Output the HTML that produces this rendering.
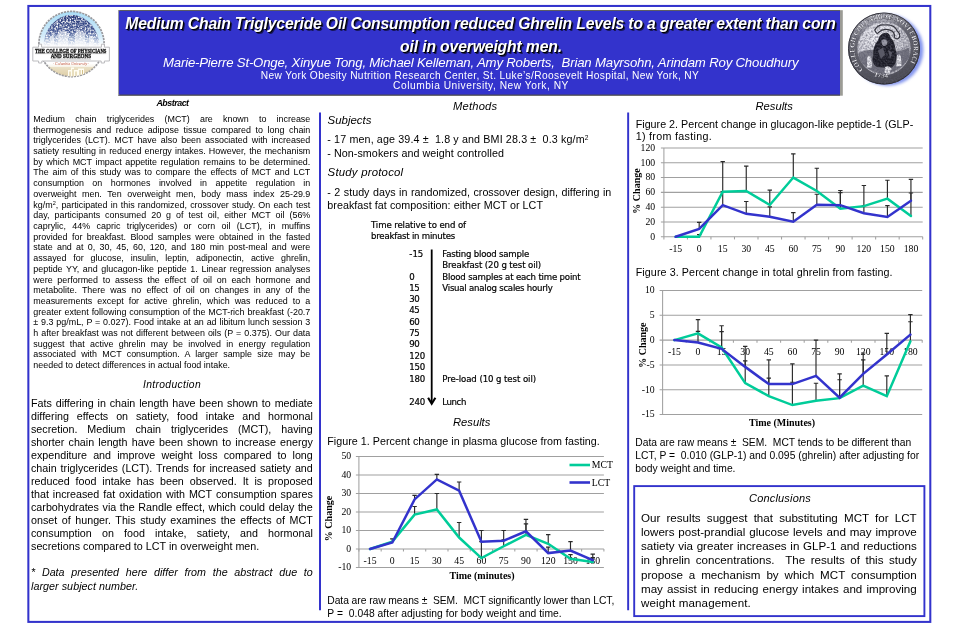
<!DOCTYPE html>
<html lang="en"><head><meta charset="utf-8"><title>MCT poster</title>
<style>
html,body{margin:0;padding:0;background:#fff;overflow:hidden;}
body{width:960px;height:640px;position:relative;overflow:hidden;font-family:"Liberation Sans",sans-serif;color:#000;}
.t{position:absolute;white-space:nowrap;}
.t.j{white-space:normal;}
.r{position:absolute;box-sizing:border-box;}
sup{font-size:0.62em;line-height:0;vertical-align:0.5em;}
svg{position:absolute;left:0;top:0;overflow:visible;}
svg text{font-family:"Liberation Serif",serif;}
</style></head><body>
<svg width="960" height="640" fill="none" stroke="#3333cc"><rect x="28.35" y="5.95" width="901.95" height="615.95" stroke-width="2.05"/><line x1="320" y1="112.5" x2="320" y2="610.3" stroke-width="2"/><line x1="628.15" y1="112.5" x2="628.15" y2="610.3" stroke-width="1.95"/><rect x="634.2" y="486.1" width="290.2" height="130" stroke-width="1.9"/></svg>
<svg width="960" height="640"><rect x="118.3" y="10.2" width="724.5" height="85.5" fill="#9c9c96"/><rect x="118.3" y="10.2" width="721.7" height="85.5" fill="#4a4a52"/><rect x="118.3" y="10.2" width="1" height="85" fill="#b8b8b8"/><rect x="118.95" y="11" width="721.05" height="83.5" fill="#3333cc"/></svg>
<div class="t" style="top:13.56px;font-size:15.7px;line-height:20px;color:#fff;font-style:italic;font-weight:bold;letter-spacing:-0.155px;left:80.50px;width:800px;text-align:center;text-shadow:1px 1px 0 #000,2px 2px 0 rgba(0,0,0,0.55);">Medium Chain Triglyceride Oil Consumption reduced Ghrelin Levels to a greater extent than corn</div>
<div class="t" style="top:36.56px;font-size:15.7px;line-height:20px;color:#fff;font-style:italic;font-weight:bold;letter-spacing:-0.131px;left:81.00px;width:800px;text-align:center;text-shadow:1px 1px 0 #000,2px 2px 0 rgba(0,0,0,0.55);">oil in overweight men.</div>
<div class="t" style="top:54.33px;font-size:13.2px;line-height:17px;color:#fff;font-style:italic;letter-spacing:-0.184px;left:80.70px;width:800px;text-align:center;white-space:pre;">Marie-Pierre St-Onge, Xinyue Tong, Michael Kelleman, Amy Roberts,  Brian Mayrsohn, Arindam Roy Choudhury</div>
<div class="t" style="top:68.87px;font-size:10.2px;line-height:13px;color:#fff;letter-spacing:0.363px;left:80.00px;width:800px;text-align:center;">New York Obesity Nutrition Research Center, St. Luke’s/Roosevelt Hospital, New York, NY</div>
<div class="t" style="top:79.17px;font-size:10.2px;line-height:13px;color:#fff;letter-spacing:0.529px;left:81.00px;width:800px;text-align:center;">Columbia University, New York, NY</div>
<div class="t" style="top:96.72px;font-size:8.9px;line-height:12px;font-style:italic;font-weight:bold;letter-spacing:-0.476px;left:52.50px;width:240px;text-align:center;">Abstract</div>
<div class="t j" style="top:112.86px;font-size:8.93px;line-height:12px;left:33.30px;width:277.00px;text-align:justify;text-align-last:justify;">Medium chain triglycerides (MCT) are known to increase</div>
<div class="t j" style="top:123.57px;font-size:8.93px;line-height:12px;left:33.30px;width:277.00px;text-align:justify;text-align-last:justify;">thermogenesis and reduce adipose tissue compared to long chain</div>
<div class="t j" style="top:134.28px;font-size:8.93px;line-height:12px;left:33.30px;width:277.00px;text-align:justify;text-align-last:justify;">triglycerides (LCT). MCT have also been associated with increased</div>
<div class="t j" style="top:144.99px;font-size:8.93px;line-height:12px;left:33.30px;width:277.00px;text-align:justify;text-align-last:justify;">satiety resulting in reduced energy intakes. However, the mechanism</div>
<div class="t j" style="top:155.70px;font-size:8.93px;line-height:12px;left:33.30px;width:277.00px;text-align:justify;text-align-last:justify;">by which MCT impact appetite regulation remains to be determined.</div>
<div class="t j" style="top:166.41px;font-size:8.93px;line-height:12px;left:33.30px;width:277.00px;text-align:justify;text-align-last:justify;">The aim of this study was to compare the effects of MCT and LCT</div>
<div class="t j" style="top:177.12px;font-size:8.93px;line-height:12px;left:33.30px;width:277.00px;text-align:justify;text-align-last:justify;">consumption on hormones involved in appetite regulation in</div>
<div class="t j" style="top:187.83px;font-size:8.93px;line-height:12px;left:33.30px;width:277.00px;text-align:justify;text-align-last:justify;">overweight men. Ten overweight men, body mass index 25-29.9</div>
<div class="t j" style="top:198.54px;font-size:8.93px;line-height:12px;left:33.30px;width:277.00px;text-align:justify;text-align-last:justify;">kg/m<sup>2</sup>, participated in this randomized, crossover study. On each test</div>
<div class="t j" style="top:209.25px;font-size:8.93px;line-height:12px;left:33.30px;width:277.00px;text-align:justify;text-align-last:justify;">day, participants consumed 20 g of test oil, either MCT oil (56%</div>
<div class="t j" style="top:219.96px;font-size:8.93px;line-height:12px;left:33.30px;width:277.00px;text-align:justify;text-align-last:justify;">caprylic, 44% capric triglycerides) or corn oil (LCT), in muffins</div>
<div class="t j" style="top:230.67px;font-size:8.93px;line-height:12px;left:33.30px;width:277.00px;text-align:justify;text-align-last:justify;">provided for breakfast. Blood samples were obtained in the fasted</div>
<div class="t j" style="top:241.38px;font-size:8.93px;line-height:12px;left:33.30px;width:277.00px;text-align:justify;text-align-last:justify;">state and at 0, 30, 45, 60, 120, and 180 min post-meal and were</div>
<div class="t j" style="top:252.09px;font-size:8.93px;line-height:12px;left:33.30px;width:277.00px;text-align:justify;text-align-last:justify;">assayed for glucose, insulin, leptin, adiponectin, active ghrelin,</div>
<div class="t j" style="top:262.80px;font-size:8.93px;line-height:12px;left:33.30px;width:277.00px;text-align:justify;text-align-last:justify;">peptide YY, and glucagon-like peptide 1. Linear regression analyses</div>
<div class="t j" style="top:273.51px;font-size:8.93px;line-height:12px;left:33.30px;width:277.00px;text-align:justify;text-align-last:justify;">were performed to assess the effect of oil on each hormone and</div>
<div class="t j" style="top:284.22px;font-size:8.93px;line-height:12px;left:33.30px;width:277.00px;text-align:justify;text-align-last:justify;">metabolite. There was no effect of oil on changes in any of the</div>
<div class="t j" style="top:294.93px;font-size:8.93px;line-height:12px;left:33.30px;width:277.00px;text-align:justify;text-align-last:justify;">measurements except for active ghrelin, which was reduced to a</div>
<div class="t j" style="top:305.64px;font-size:8.93px;line-height:12px;left:33.30px;width:277.00px;text-align:justify;text-align-last:justify;">greater extent following consumption of the MCT-rich breakfast (-20.7</div>
<div class="t j" style="top:316.35px;font-size:8.93px;line-height:12px;left:33.30px;width:277.00px;text-align:justify;text-align-last:justify;">± 9.3 pg/mL, P = 0.027). Food intake at an ad libitum lunch session 3</div>
<div class="t j" style="top:327.06px;font-size:8.93px;line-height:12px;left:33.30px;width:277.00px;text-align:justify;text-align-last:justify;">h after breakfast was not different between oils (P = 0.375). Our data</div>
<div class="t j" style="top:337.77px;font-size:8.93px;line-height:12px;left:33.30px;width:277.00px;text-align:justify;text-align-last:justify;">suggest that active ghrelin may be involved in energy regulation</div>
<div class="t j" style="top:348.48px;font-size:8.93px;line-height:12px;left:33.30px;width:277.00px;text-align:justify;text-align-last:justify;">associated with MCT consumption. A larger sample size may be</div>
<div class="t" style="top:359.19px;font-size:8.93px;line-height:12px;letter-spacing:0.001px;left:33.30px;">needed to detect differences in actual food intake.</div>
<div class="t" style="top:378.43px;font-size:10.3px;line-height:13px;font-style:italic;letter-spacing:0.348px;left:52.00px;width:240px;text-align:center;">Introduction</div>
<div class="t j" style="top:395.59px;font-size:10.72px;line-height:14px;left:31.00px;width:281.80px;text-align:justify;text-align-last:justify;">Fats differing in chain length have been shown to mediate</div>
<div class="t j" style="top:408.62px;font-size:10.72px;line-height:14px;left:31.00px;width:281.80px;text-align:justify;text-align-last:justify;">differing effects on satiety, food intake and hormonal</div>
<div class="t j" style="top:421.65px;font-size:10.72px;line-height:14px;left:31.00px;width:281.80px;text-align:justify;text-align-last:justify;">secretion. Medium chain triglycerides (MCT), having</div>
<div class="t j" style="top:434.68px;font-size:10.72px;line-height:14px;left:31.00px;width:281.80px;text-align:justify;text-align-last:justify;">shorter chain length have been shown to increase energy</div>
<div class="t j" style="top:447.71px;font-size:10.72px;line-height:14px;left:31.00px;width:281.80px;text-align:justify;text-align-last:justify;">expenditure and improve weight loss compared to long</div>
<div class="t j" style="top:460.74px;font-size:10.72px;line-height:14px;left:31.00px;width:281.80px;text-align:justify;text-align-last:justify;">chain triglycerides (LCT). Trends for increased satiety and</div>
<div class="t j" style="top:473.77px;font-size:10.72px;line-height:14px;left:31.00px;width:281.80px;text-align:justify;text-align-last:justify;">reduced food intake has been observed. It is proposed</div>
<div class="t j" style="top:486.80px;font-size:10.72px;line-height:14px;left:31.00px;width:281.80px;text-align:justify;text-align-last:justify;">that increased fat oxidation with MCT consumption spares</div>
<div class="t j" style="top:499.83px;font-size:10.72px;line-height:14px;left:31.00px;width:281.80px;text-align:justify;text-align-last:justify;">carbohydrates via the Randle effect, which could delay the</div>
<div class="t j" style="top:512.86px;font-size:10.72px;line-height:14px;left:31.00px;width:281.80px;text-align:justify;text-align-last:justify;">onset of hunger. This study examines the effects of MCT</div>
<div class="t j" style="top:525.89px;font-size:10.72px;line-height:14px;left:31.00px;width:281.80px;text-align:justify;text-align-last:justify;">consumption on food intake, satiety, and hormonal</div>
<div class="t" style="top:538.92px;font-size:10.72px;line-height:14px;letter-spacing:0.020px;left:31.00px;">secretions compared to LCT in overweight men.</div>
<div class="t j" style="top:564.99px;font-size:10.72px;line-height:14px;font-style:italic;left:31.00px;width:281.80px;text-align:justify;text-align-last:justify;">* Data presented here differ from the abstract due to</div>
<div class="t" style="top:579.29px;font-size:10.72px;line-height:14px;font-style:italic;letter-spacing:0.047px;left:31.00px;">larger subject number.</div>
<div class="t" style="top:98.92px;font-size:11.2px;line-height:15px;font-style:italic;letter-spacing:0.206px;left:355.20px;width:240px;text-align:center;">Methods</div>
<div class="t" style="top:112.95px;font-size:11.4px;line-height:15px;font-style:italic;letter-spacing:0.009px;left:327.60px;">Subjects</div>
<div class="t" style="top:132.29px;font-size:10.72px;line-height:14px;letter-spacing:0.129px;left:327.30px;white-space:pre;">- 17 men, age 39.4 ±  1.8 y and BMI 28.3 ±  0.3 kg/m<sup>2</sup></div>
<div class="t" style="top:145.99px;font-size:10.72px;line-height:14px;letter-spacing:0.061px;left:327.30px;">- Non-smokers and weight controlled</div>
<div class="t" style="top:164.75px;font-size:11.4px;line-height:15px;font-style:italic;letter-spacing:0.209px;left:327.60px;">Study protocol</div>
<div class="t j" style="top:184.69px;font-size:10.72px;line-height:14px;left:327.30px;width:284.00px;text-align:justify;text-align-last:justify;">- 2 study days in randomized, crossover design, differing in</div>
<div class="t" style="top:197.99px;font-size:10.72px;line-height:14px;letter-spacing:0.046px;left:327.30px;">breakfast fat composition: either MCT or LCT</div>
<div class="t" style="top:219.00px;font-size:9.55px;line-height:12px;font-family:'DejaVu Sans Condensed','DejaVu Sans',sans-serif;font-stretch:condensed;-webkit-text-stroke:0.2px #000;letter-spacing:-0.104px;left:371.00px;">Time relative to end of</div>
<div class="t" style="top:229.90px;font-size:9.55px;line-height:12px;font-family:'DejaVu Sans Condensed','DejaVu Sans',sans-serif;font-stretch:condensed;-webkit-text-stroke:0.2px #000;letter-spacing:-0.225px;left:371.00px;">breakfast in minutes</div>
<div class="t" style="top:247.60px;font-size:9.55px;line-height:12px;font-family:'DejaVu Sans Condensed','DejaVu Sans',sans-serif;font-stretch:condensed;-webkit-text-stroke:0.2px #000;letter-spacing:-0.010px;left:409.30px;">-15</div>
<div class="t" style="top:247.60px;font-size:9.55px;line-height:12px;font-family:'DejaVu Sans Condensed','DejaVu Sans',sans-serif;font-stretch:condensed;-webkit-text-stroke:0.2px #000;letter-spacing:-0.214px;left:442.30px;">Fasting blood sample</div>
<div class="t" style="top:258.70px;font-size:9.55px;line-height:12px;font-family:'DejaVu Sans Condensed','DejaVu Sans',sans-serif;font-stretch:condensed;-webkit-text-stroke:0.2px #000;letter-spacing:-0.108px;left:442.30px;">Breakfast (20 g test oil)</div>
<div class="t" style="top:270.50px;font-size:9.55px;line-height:12px;font-family:'DejaVu Sans Condensed','DejaVu Sans',sans-serif;font-stretch:condensed;-webkit-text-stroke:0.2px #000;letter-spacing:-0.465px;left:409.30px;">0</div>
<div class="t" style="top:270.50px;font-size:9.55px;line-height:12px;font-family:'DejaVu Sans Condensed','DejaVu Sans',sans-serif;font-stretch:condensed;-webkit-text-stroke:0.2px #000;letter-spacing:-0.187px;left:442.30px;">Blood samples at each time point</div>
<div class="t" style="top:281.90px;font-size:9.55px;line-height:12px;font-family:'DejaVu Sans Condensed','DejaVu Sans',sans-serif;font-stretch:condensed;-webkit-text-stroke:0.2px #000;letter-spacing:-0.465px;left:409.30px;">15</div>
<div class="t" style="top:281.90px;font-size:9.55px;line-height:12px;font-family:'DejaVu Sans Condensed','DejaVu Sans',sans-serif;font-stretch:condensed;-webkit-text-stroke:0.2px #000;letter-spacing:-0.235px;left:442.30px;">Visual analog scales hourly</div>
<div class="t" style="top:293.20px;font-size:9.55px;line-height:12px;font-family:'DejaVu Sans Condensed','DejaVu Sans',sans-serif;font-stretch:condensed;-webkit-text-stroke:0.2px #000;letter-spacing:-0.465px;left:409.30px;">30</div>
<div class="t" style="top:304.40px;font-size:9.55px;line-height:12px;font-family:'DejaVu Sans Condensed','DejaVu Sans',sans-serif;font-stretch:condensed;-webkit-text-stroke:0.2px #000;letter-spacing:-0.465px;left:409.30px;">45</div>
<div class="t" style="top:315.60px;font-size:9.55px;line-height:12px;font-family:'DejaVu Sans Condensed','DejaVu Sans',sans-serif;font-stretch:condensed;-webkit-text-stroke:0.2px #000;letter-spacing:-0.465px;left:409.30px;">60</div>
<div class="t" style="top:326.90px;font-size:9.55px;line-height:12px;font-family:'DejaVu Sans Condensed','DejaVu Sans',sans-serif;font-stretch:condensed;-webkit-text-stroke:0.2px #000;letter-spacing:-0.465px;left:409.30px;">75</div>
<div class="t" style="top:338.30px;font-size:9.55px;line-height:12px;font-family:'DejaVu Sans Condensed','DejaVu Sans',sans-serif;font-stretch:condensed;-webkit-text-stroke:0.2px #000;letter-spacing:-0.465px;left:409.30px;">90</div>
<div class="t" style="top:349.70px;font-size:9.55px;line-height:12px;font-family:'DejaVu Sans Condensed','DejaVu Sans',sans-serif;font-stretch:condensed;-webkit-text-stroke:0.2px #000;letter-spacing:-0.232px;left:409.30px;">120</div>
<div class="t" style="top:360.90px;font-size:9.55px;line-height:12px;font-family:'DejaVu Sans Condensed','DejaVu Sans',sans-serif;font-stretch:condensed;-webkit-text-stroke:0.2px #000;letter-spacing:-0.232px;left:409.30px;">150</div>
<div class="t" style="top:372.80px;font-size:9.55px;line-height:12px;font-family:'DejaVu Sans Condensed','DejaVu Sans',sans-serif;font-stretch:condensed;-webkit-text-stroke:0.2px #000;letter-spacing:-0.232px;left:409.30px;">180</div>
<div class="t" style="top:372.80px;font-size:9.55px;line-height:12px;font-family:'DejaVu Sans Condensed','DejaVu Sans',sans-serif;font-stretch:condensed;-webkit-text-stroke:0.2px #000;letter-spacing:-0.080px;left:442.30px;">Pre-load (10 g test oil)</div>
<div class="t" style="top:395.60px;font-size:9.55px;line-height:12px;font-family:'DejaVu Sans Condensed','DejaVu Sans',sans-serif;font-stretch:condensed;-webkit-text-stroke:0.2px #000;letter-spacing:-0.232px;left:409.30px;">240</div>
<div class="t" style="top:395.60px;font-size:9.55px;line-height:12px;font-family:'DejaVu Sans Condensed','DejaVu Sans',sans-serif;font-stretch:condensed;-webkit-text-stroke:0.2px #000;letter-spacing:-0.396px;left:442.30px;">Lunch</div>
<svg width="960" height="640"><line x1="431.7" y1="249.5" x2="431.7" y2="402.4" stroke="#000" stroke-width="1.8"/><path d="M428.1 397.7 L431.7 403.7 L435.4 397.7" fill="none" stroke="#000" stroke-width="2.1" stroke-linejoin="miter"/></svg>
<div class="t" style="top:415.02px;font-size:11.2px;line-height:15px;font-style:italic;letter-spacing:-0.007px;left:351.70px;width:240px;text-align:center;">Results</div>
<div class="t" style="top:433.79px;font-size:10.72px;line-height:14px;letter-spacing:0.025px;left:327.30px;">Figure 1. Percent change in plasma glucose from fasting.</div>
<div class="t" style="top:594.13px;font-size:10.3px;line-height:13px;letter-spacing:-0.058px;left:327.30px;white-space:pre;">Data are raw means ±  SEM.  MCT significantly lower than LCT,</div>
<div class="t" style="top:606.73px;font-size:10.3px;line-height:13px;letter-spacing:0.037px;left:327.30px;white-space:pre;">P =  0.048 after adjusting for body weight and time.</div>
<div class="t" style="top:98.92px;font-size:11.2px;line-height:15px;font-style:italic;letter-spacing:-0.007px;left:654.20px;width:240px;text-align:center;">Results</div>
<div class="t" style="top:116.99px;font-size:10.72px;line-height:14px;letter-spacing:0.009px;left:635.70px;">Figure 2. Percent change in glucagon-like peptide-1 (GLP-</div>
<div class="t" style="top:129.29px;font-size:10.72px;line-height:14px;left:635.70px;letter-spacing:0.3px;">1) from fasting.</div>
<div class="t" style="top:265.49px;font-size:10.72px;line-height:14px;letter-spacing:0.090px;left:635.70px;">Figure 3. Percent change in total ghrelin from fasting.</div>
<div class="t" style="top:436.23px;font-size:10.3px;line-height:13px;letter-spacing:-0.011px;left:635.30px;white-space:pre;">Data are raw means ±  SEM.  MCT tends to be different than</div>
<div class="t" style="top:449.33px;font-size:10.3px;line-height:13px;letter-spacing:0.026px;left:635.30px;white-space:pre;">LCT, P =  0.010 (GLP-1) and 0.095 (ghrelin) after adjusting for</div>
<div class="t" style="top:461.63px;font-size:10.3px;line-height:13px;left:635.30px;">body weight and time.</div>
<div class="t" style="top:490.69px;font-size:11px;line-height:14px;font-style:italic;letter-spacing:0.189px;left:660.00px;width:240px;text-align:center;">Conclusions</div>
<div class="t j" style="top:509.98px;font-size:11.6px;line-height:15px;left:641.00px;width:275.70px;text-align:justify;text-align-last:justify;">Our results suggest that substituting MCT for LCT</div>
<div class="t j" style="top:524.15px;font-size:11.6px;line-height:15px;left:641.00px;width:275.70px;text-align:justify;text-align-last:justify;">lowers post-prandial glucose levels and may improve</div>
<div class="t j" style="top:538.32px;font-size:11.6px;line-height:15px;left:641.00px;width:275.70px;text-align:justify;text-align-last:justify;">satiety via greater increases in GLP-1 and reductions</div>
<div class="t j" style="top:552.49px;font-size:11.6px;line-height:15px;left:641.00px;width:275.70px;text-align:justify;text-align-last:justify;white-space:pre-wrap;">in ghrelin concentrations.  The results of this study</div>
<div class="t j" style="top:566.66px;font-size:11.6px;line-height:15px;left:641.00px;width:275.70px;text-align:justify;text-align-last:justify;">propose a mechanism by which MCT consumption</div>
<div class="t j" style="top:580.83px;font-size:11.6px;line-height:15px;left:641.00px;width:275.70px;text-align:justify;text-align-last:justify;">may assist in reducing energy intakes and improving</div>
<div class="t" style="top:595.00px;font-size:11.6px;line-height:15px;letter-spacing:0.129px;left:641.00px;">weight management.</div>
<svg width="960" height="640"><line x1="355.90" y1="456.50" x2="603.90" y2="456.50" stroke="#a0a0a0" stroke-width="1.05"/><line x1="355.90" y1="475.00" x2="603.90" y2="475.00" stroke="#a0a0a0" stroke-width="1.05"/><line x1="355.90" y1="493.50" x2="603.90" y2="493.50" stroke="#a0a0a0" stroke-width="1.05"/><line x1="355.90" y1="512.00" x2="603.90" y2="512.00" stroke="#a0a0a0" stroke-width="1.05"/><line x1="355.90" y1="530.50" x2="603.90" y2="530.50" stroke="#a0a0a0" stroke-width="1.05"/><line x1="355.90" y1="549.00" x2="603.90" y2="549.00" stroke="#a0a0a0" stroke-width="1.05"/><line x1="355.90" y1="567.50" x2="603.90" y2="567.50" stroke="#a0a0a0" stroke-width="1.05"/><line x1="358.90" y1="456.50" x2="358.90" y2="567.50" stroke="#a0a0a0" stroke-width="1.05"/><line x1="358.90" y1="549.00" x2="358.90" y2="551.60" stroke="#a0a0a0" stroke-width="1.05"/><line x1="381.17" y1="549.00" x2="381.17" y2="551.60" stroke="#a0a0a0" stroke-width="1.05"/><line x1="403.45" y1="549.00" x2="403.45" y2="551.60" stroke="#a0a0a0" stroke-width="1.05"/><line x1="425.72" y1="549.00" x2="425.72" y2="551.60" stroke="#a0a0a0" stroke-width="1.05"/><line x1="447.99" y1="549.00" x2="447.99" y2="551.60" stroke="#a0a0a0" stroke-width="1.05"/><line x1="470.26" y1="549.00" x2="470.26" y2="551.60" stroke="#a0a0a0" stroke-width="1.05"/><line x1="492.54" y1="549.00" x2="492.54" y2="551.60" stroke="#a0a0a0" stroke-width="1.05"/><line x1="514.81" y1="549.00" x2="514.81" y2="551.60" stroke="#a0a0a0" stroke-width="1.05"/><line x1="537.08" y1="549.00" x2="537.08" y2="551.60" stroke="#a0a0a0" stroke-width="1.05"/><line x1="559.35" y1="549.00" x2="559.35" y2="551.60" stroke="#a0a0a0" stroke-width="1.05"/><line x1="581.63" y1="549.00" x2="581.63" y2="551.60" stroke="#a0a0a0" stroke-width="1.05"/><line x1="603.90" y1="549.00" x2="603.90" y2="551.60" stroke="#a0a0a0" stroke-width="1.05"/><text x="351.20" y="459.32" font-size="9.75" text-anchor="end">50</text><text x="351.20" y="477.82" font-size="9.75" text-anchor="end">40</text><text x="351.20" y="496.32" font-size="9.75" text-anchor="end">30</text><text x="351.20" y="514.82" font-size="9.75" text-anchor="end">20</text><text x="351.20" y="533.32" font-size="9.75" text-anchor="end">10</text><text x="351.20" y="551.82" font-size="9.75" text-anchor="end">0</text><text x="351.20" y="570.32" font-size="9.75" text-anchor="end">-10</text><text x="370.04" y="564.02" font-size="9.75" text-anchor="middle">-15</text><text x="392.31" y="564.02" font-size="9.75" text-anchor="middle">0</text><text x="414.58" y="564.02" font-size="9.75" text-anchor="middle">15</text><text x="436.85" y="564.02" font-size="9.75" text-anchor="middle">30</text><text x="459.13" y="564.02" font-size="9.75" text-anchor="middle">45</text><text x="481.40" y="564.02" font-size="9.75" text-anchor="middle">60</text><text x="503.67" y="564.02" font-size="9.75" text-anchor="middle">75</text><text x="525.95" y="564.02" font-size="9.75" text-anchor="middle">90</text><text x="548.22" y="564.02" font-size="9.75" text-anchor="middle">120</text><text x="570.49" y="564.02" font-size="9.75" text-anchor="middle">150</text><text x="592.76" y="564.02" font-size="9.75" text-anchor="middle">180</text><text transform="translate(332.00,518.50) rotate(-90)" font-size="10" font-weight="bold" text-anchor="middle">% Change</text><text x="482.00" y="578.50" font-size="10" font-weight="bold" text-anchor="middle">Time (minutes)</text><path d="M414.58 514.59 V506.45 M412.38 506.45 H416.78" stroke="#2a2a2a" stroke-width="1.15" fill="none"/><path d="M436.85 509.41 V493.50 M434.65 493.50 H439.05" stroke="#2a2a2a" stroke-width="1.15" fill="none"/><path d="M459.13 537.53 V522.54 M456.93 522.54 H461.33" stroke="#2a2a2a" stroke-width="1.15" fill="none"/><path d="M481.40 558.07 V541.60 M479.20 541.60 H483.60" stroke="#2a2a2a" stroke-width="1.15" fill="none"/><path d="M503.67 546.23 V539.75 M501.47 539.75 H505.87" stroke="#2a2a2a" stroke-width="1.15" fill="none"/><path d="M525.95 534.94 V523.84 M523.75 523.84 H528.15" stroke="#2a2a2a" stroke-width="1.15" fill="none"/><path d="M548.22 543.82 V534.57 M546.02 534.57 H550.42" stroke="#2a2a2a" stroke-width="1.15" fill="none"/><path d="M570.49 558.80 V554.55 M568.29 554.55 H572.69" stroke="#2a2a2a" stroke-width="1.15" fill="none"/><path d="M592.76 561.95 V557.51 M590.56 557.51 H594.96" stroke="#2a2a2a" stroke-width="1.15" fill="none"/><path d="M392.31 542.52 V538.83 M390.11 538.83 H394.51" stroke="#2a2a2a" stroke-width="1.15" fill="none"/><path d="M414.58 499.42 V495.35 M412.38 495.35 H416.78" stroke="#2a2a2a" stroke-width="1.15" fill="none"/><path d="M436.85 479.44 V474.44 M434.65 474.44 H439.05" stroke="#2a2a2a" stroke-width="1.15" fill="none"/><path d="M459.13 490.73 V482.03 M456.93 482.03 H461.33" stroke="#2a2a2a" stroke-width="1.15" fill="none"/><path d="M481.40 541.78 V530.50 M479.20 530.50 H483.60" stroke="#2a2a2a" stroke-width="1.15" fill="none"/><path d="M503.67 540.67 V530.50 M501.47 530.50 H505.87" stroke="#2a2a2a" stroke-width="1.15" fill="none"/><path d="M525.95 531.24 V519.40 M523.75 519.40 H528.15" stroke="#2a2a2a" stroke-width="1.15" fill="none"/><path d="M548.22 553.07 V547.15 M546.02 547.15 H550.42" stroke="#2a2a2a" stroke-width="1.15" fill="none"/><path d="M570.49 550.48 V541.60 M568.29 541.60 H572.69" stroke="#2a2a2a" stroke-width="1.15" fill="none"/><path d="M592.76 560.10 V554.18 M590.56 554.18 H594.96" stroke="#2a2a2a" stroke-width="1.15" fill="none"/><polyline points="370.04,549.00 392.31,541.60 414.58,514.59 436.85,509.41 459.13,537.53 481.40,558.07 503.67,546.23 525.95,534.94 548.22,543.82 570.49,558.80 592.76,561.95" fill="none" stroke="#00cc99" stroke-width="2.5" stroke-linejoin="miter" stroke-linecap="round"/><polyline points="370.04,549.00 392.31,542.52 414.58,499.42 436.85,479.44 459.13,490.73 481.40,541.78 503.67,540.67 525.95,531.24 548.22,553.07 570.49,550.48 592.76,560.10" fill="none" stroke="#3333cc" stroke-width="2.5" stroke-linejoin="miter" stroke-linecap="round"/><line x1="569.5" y1="465" x2="590" y2="465" stroke="#00cc99" stroke-width="2.6"/><line x1="569.5" y1="482.5" x2="590" y2="482.5" stroke="#3333cc" stroke-width="2.6"/><text x="591.8" y="468.22" font-size="9.75">MCT</text><text x="591.8" y="485.72" font-size="9.75">LCT</text></svg>
<svg width="960" height="640"><line x1="660.90" y1="147.94" x2="922.70" y2="147.94" stroke="#a0a0a0" stroke-width="1.05"/><line x1="660.90" y1="162.75" x2="922.70" y2="162.75" stroke="#a0a0a0" stroke-width="1.05"/><line x1="660.90" y1="177.56" x2="922.70" y2="177.56" stroke="#a0a0a0" stroke-width="1.05"/><line x1="660.90" y1="192.37" x2="922.70" y2="192.37" stroke="#a0a0a0" stroke-width="1.05"/><line x1="660.90" y1="207.18" x2="922.70" y2="207.18" stroke="#a0a0a0" stroke-width="1.05"/><line x1="660.90" y1="221.99" x2="922.70" y2="221.99" stroke="#a0a0a0" stroke-width="1.05"/><line x1="660.90" y1="236.80" x2="922.70" y2="236.80" stroke="#a0a0a0" stroke-width="1.05"/><line x1="663.90" y1="147.94" x2="663.90" y2="236.80" stroke="#a0a0a0" stroke-width="1.05"/><line x1="663.90" y1="236.80" x2="663.90" y2="239.40" stroke="#a0a0a0" stroke-width="1.05"/><line x1="687.43" y1="236.80" x2="687.43" y2="239.40" stroke="#a0a0a0" stroke-width="1.05"/><line x1="710.95" y1="236.80" x2="710.95" y2="239.40" stroke="#a0a0a0" stroke-width="1.05"/><line x1="734.48" y1="236.80" x2="734.48" y2="239.40" stroke="#a0a0a0" stroke-width="1.05"/><line x1="758.01" y1="236.80" x2="758.01" y2="239.40" stroke="#a0a0a0" stroke-width="1.05"/><line x1="781.54" y1="236.80" x2="781.54" y2="239.40" stroke="#a0a0a0" stroke-width="1.05"/><line x1="805.06" y1="236.80" x2="805.06" y2="239.40" stroke="#a0a0a0" stroke-width="1.05"/><line x1="828.59" y1="236.80" x2="828.59" y2="239.40" stroke="#a0a0a0" stroke-width="1.05"/><line x1="852.12" y1="236.80" x2="852.12" y2="239.40" stroke="#a0a0a0" stroke-width="1.05"/><line x1="875.65" y1="236.80" x2="875.65" y2="239.40" stroke="#a0a0a0" stroke-width="1.05"/><line x1="899.17" y1="236.80" x2="899.17" y2="239.40" stroke="#a0a0a0" stroke-width="1.05"/><line x1="922.70" y1="236.80" x2="922.70" y2="239.40" stroke="#a0a0a0" stroke-width="1.05"/><text x="655.20" y="150.76" font-size="9.75" text-anchor="end">120</text><text x="655.20" y="165.57" font-size="9.75" text-anchor="end">100</text><text x="655.20" y="180.38" font-size="9.75" text-anchor="end">80</text><text x="655.20" y="195.19" font-size="9.75" text-anchor="end">60</text><text x="655.20" y="210.00" font-size="9.75" text-anchor="end">40</text><text x="655.20" y="224.81" font-size="9.75" text-anchor="end">20</text><text x="655.20" y="239.62" font-size="9.75" text-anchor="end">0</text><text x="675.66" y="252.12" font-size="9.75" text-anchor="middle">-15</text><text x="699.19" y="252.12" font-size="9.75" text-anchor="middle">0</text><text x="722.72" y="252.12" font-size="9.75" text-anchor="middle">15</text><text x="746.25" y="252.12" font-size="9.75" text-anchor="middle">30</text><text x="769.77" y="252.12" font-size="9.75" text-anchor="middle">45</text><text x="793.30" y="252.12" font-size="9.75" text-anchor="middle">60</text><text x="816.83" y="252.12" font-size="9.75" text-anchor="middle">75</text><text x="840.35" y="252.12" font-size="9.75" text-anchor="middle">90</text><text x="863.88" y="252.12" font-size="9.75" text-anchor="middle">120</text><text x="887.41" y="252.12" font-size="9.75" text-anchor="middle">150</text><text x="910.94" y="252.12" font-size="9.75" text-anchor="middle">180</text><text transform="translate(640.00,191.00) rotate(-90)" font-size="10" font-weight="bold" text-anchor="middle">% Change</text><path d="M699.19 236.80 V234.58 M696.99 234.58 H701.39" stroke="#2a2a2a" stroke-width="1.15" fill="none"/><path d="M722.72 191.63 V161.64 M720.52 161.64 H724.92" stroke="#2a2a2a" stroke-width="1.15" fill="none"/><path d="M746.25 190.89 V166.08 M744.05 166.08 H748.45" stroke="#2a2a2a" stroke-width="1.15" fill="none"/><path d="M769.77 204.96 V190.15 M767.57 190.15 H771.97" stroke="#2a2a2a" stroke-width="1.15" fill="none"/><path d="M793.30 177.56 V153.86 M791.10 153.86 H795.50" stroke="#2a2a2a" stroke-width="1.15" fill="none"/><path d="M816.83 190.96 V168.23 M814.63 168.23 H819.03" stroke="#2a2a2a" stroke-width="1.15" fill="none"/><path d="M840.35 208.81 V190.52 M838.15 190.52 H842.55" stroke="#2a2a2a" stroke-width="1.15" fill="none"/><path d="M863.88 206.14 V185.48 M861.68 185.48 H866.08" stroke="#2a2a2a" stroke-width="1.15" fill="none"/><path d="M887.41 198.66 V180.23 M885.21 180.23 H889.61" stroke="#2a2a2a" stroke-width="1.15" fill="none"/><path d="M910.94 215.92 V179.41 M908.74 179.41 H913.14" stroke="#2a2a2a" stroke-width="1.15" fill="none"/><path d="M699.19 228.88 V222.36 M696.99 222.36 H701.39" stroke="#2a2a2a" stroke-width="1.15" fill="none"/><path d="M722.72 205.11 V191.63 M720.52 191.63 H724.92" stroke="#2a2a2a" stroke-width="1.15" fill="none"/><path d="M746.25 213.84 V201.48 M744.05 201.48 H748.45" stroke="#2a2a2a" stroke-width="1.15" fill="none"/><path d="M769.77 216.81 V206.81 M767.57 206.81 H771.97" stroke="#2a2a2a" stroke-width="1.15" fill="none"/><path d="M793.30 221.77 V212.66 M791.10 212.66 H795.50" stroke="#2a2a2a" stroke-width="1.15" fill="none"/><path d="M816.83 204.74 V194.22 M814.63 194.22 H819.03" stroke="#2a2a2a" stroke-width="1.15" fill="none"/><path d="M840.35 205.18 V192.59 M838.15 192.59 H842.55" stroke="#2a2a2a" stroke-width="1.15" fill="none"/><path d="M863.88 213.25 V205.70 M861.68 205.70 H866.08" stroke="#2a2a2a" stroke-width="1.15" fill="none"/><path d="M887.41 216.95 V205.55 M885.21 205.55 H889.61" stroke="#2a2a2a" stroke-width="1.15" fill="none"/><path d="M910.94 200.66 V192.96 M908.74 192.96 H913.14" stroke="#2a2a2a" stroke-width="1.15" fill="none"/><polyline points="675.66,236.80 699.19,236.80 722.72,191.63 746.25,190.89 769.77,204.96 793.30,177.56 816.83,190.96 840.35,208.81 863.88,206.14 887.41,198.66 910.94,215.92" fill="none" stroke="#00cc99" stroke-width="2.5" stroke-linejoin="miter" stroke-linecap="round"/><polyline points="675.66,236.80 699.19,228.88 722.72,205.11 746.25,213.84 769.77,216.81 793.30,221.77 816.83,204.74 840.35,205.18 863.88,213.25 887.41,216.95 910.94,200.66" fill="none" stroke="#3333cc" stroke-width="2.5" stroke-linejoin="miter" stroke-linecap="round"/></svg>
<svg width="960" height="640"><line x1="659.60" y1="290.50" x2="922.20" y2="290.50" stroke="#a0a0a0" stroke-width="1.05"/><line x1="659.60" y1="315.30" x2="922.20" y2="315.30" stroke="#a0a0a0" stroke-width="1.05"/><line x1="659.60" y1="340.10" x2="922.20" y2="340.10" stroke="#a0a0a0" stroke-width="1.05"/><line x1="659.60" y1="364.90" x2="922.20" y2="364.90" stroke="#a0a0a0" stroke-width="1.05"/><line x1="659.60" y1="389.70" x2="922.20" y2="389.70" stroke="#a0a0a0" stroke-width="1.05"/><line x1="659.60" y1="414.50" x2="922.20" y2="414.50" stroke="#a0a0a0" stroke-width="1.05"/><line x1="662.60" y1="290.50" x2="662.60" y2="414.50" stroke="#a0a0a0" stroke-width="1.05"/><line x1="662.60" y1="340.10" x2="662.60" y2="342.70" stroke="#a0a0a0" stroke-width="1.05"/><line x1="686.20" y1="340.10" x2="686.20" y2="342.70" stroke="#a0a0a0" stroke-width="1.05"/><line x1="709.80" y1="340.10" x2="709.80" y2="342.70" stroke="#a0a0a0" stroke-width="1.05"/><line x1="733.40" y1="340.10" x2="733.40" y2="342.70" stroke="#a0a0a0" stroke-width="1.05"/><line x1="757.00" y1="340.10" x2="757.00" y2="342.70" stroke="#a0a0a0" stroke-width="1.05"/><line x1="780.60" y1="340.10" x2="780.60" y2="342.70" stroke="#a0a0a0" stroke-width="1.05"/><line x1="804.20" y1="340.10" x2="804.20" y2="342.70" stroke="#a0a0a0" stroke-width="1.05"/><line x1="827.80" y1="340.10" x2="827.80" y2="342.70" stroke="#a0a0a0" stroke-width="1.05"/><line x1="851.40" y1="340.10" x2="851.40" y2="342.70" stroke="#a0a0a0" stroke-width="1.05"/><line x1="875.00" y1="340.10" x2="875.00" y2="342.70" stroke="#a0a0a0" stroke-width="1.05"/><line x1="898.60" y1="340.10" x2="898.60" y2="342.70" stroke="#a0a0a0" stroke-width="1.05"/><line x1="922.20" y1="340.10" x2="922.20" y2="342.70" stroke="#a0a0a0" stroke-width="1.05"/><text x="654.70" y="293.32" font-size="9.75" text-anchor="end">10</text><text x="654.70" y="318.12" font-size="9.75" text-anchor="end">5</text><text x="654.70" y="342.92" font-size="9.75" text-anchor="end">0</text><text x="654.70" y="367.72" font-size="9.75" text-anchor="end">-5</text><text x="654.70" y="392.52" font-size="9.75" text-anchor="end">-10</text><text x="654.70" y="417.32" font-size="9.75" text-anchor="end">-15</text><text x="674.40" y="354.92" font-size="9.75" text-anchor="middle">-15</text><text x="698.00" y="354.92" font-size="9.75" text-anchor="middle">0</text><text x="721.60" y="354.92" font-size="9.75" text-anchor="middle">15</text><text x="745.20" y="354.92" font-size="9.75" text-anchor="middle">30</text><text x="768.80" y="354.92" font-size="9.75" text-anchor="middle">45</text><text x="792.40" y="354.92" font-size="9.75" text-anchor="middle">60</text><text x="816.00" y="354.92" font-size="9.75" text-anchor="middle">75</text><text x="839.60" y="354.92" font-size="9.75" text-anchor="middle">90</text><text x="863.20" y="354.92" font-size="9.75" text-anchor="middle">120</text><text x="886.80" y="354.92" font-size="9.75" text-anchor="middle">150</text><text x="910.40" y="354.92" font-size="9.75" text-anchor="middle">180</text><text transform="translate(645.60,345.20) rotate(-90)" font-size="10" font-weight="bold" text-anchor="middle">% Change</text><text x="782.00" y="425.50" font-size="10" font-weight="bold" text-anchor="middle">Time (Minutes)</text><path d="M698.00 333.35 V319.62 M695.80 319.62 H700.20" stroke="#2a2a2a" stroke-width="1.15" fill="none"/><path d="M721.60 347.54 V325.72 M719.40 325.72 H723.80" stroke="#2a2a2a" stroke-width="1.15" fill="none"/><path d="M745.20 383.10 V360.93 M743.00 360.93 H747.40" stroke="#2a2a2a" stroke-width="1.15" fill="none"/><path d="M768.80 396.15 V378.09 M766.60 378.09 H771.00" stroke="#2a2a2a" stroke-width="1.15" fill="none"/><path d="M792.40 405.08 V382.26 M790.20 382.26 H794.60" stroke="#2a2a2a" stroke-width="1.15" fill="none"/><path d="M816.00 400.86 V383.25 M813.80 383.25 H818.20" stroke="#2a2a2a" stroke-width="1.15" fill="none"/><path d="M839.60 398.13 V379.78 M837.40 379.78 H841.80" stroke="#2a2a2a" stroke-width="1.15" fill="none"/><path d="M863.20 385.58 V359.94 M861.00 359.94 H865.40" stroke="#2a2a2a" stroke-width="1.15" fill="none"/><path d="M886.80 396.15 V375.81 M884.60 375.81 H889.00" stroke="#2a2a2a" stroke-width="1.15" fill="none"/><path d="M910.40 341.34 V321.75 M908.20 321.75 H912.60" stroke="#2a2a2a" stroke-width="1.15" fill="none"/><path d="M698.00 342.58 V331.37 M695.80 331.37 H700.20" stroke="#2a2a2a" stroke-width="1.15" fill="none"/><path d="M721.60 348.83 V331.67 M719.40 331.67 H723.80" stroke="#2a2a2a" stroke-width="1.15" fill="none"/><path d="M745.20 366.88 V346.35 M743.00 346.35 H747.40" stroke="#2a2a2a" stroke-width="1.15" fill="none"/><path d="M768.80 384.10 V359.94 M766.60 359.94 H771.00" stroke="#2a2a2a" stroke-width="1.15" fill="none"/><path d="M792.40 384.10 V363.91 M790.20 363.91 H794.60" stroke="#2a2a2a" stroke-width="1.15" fill="none"/><path d="M816.00 375.81 V340.10 M813.80 340.10 H818.20" stroke="#2a2a2a" stroke-width="1.15" fill="none"/><path d="M839.60 397.64 V373.83 M837.40 373.83 H841.80" stroke="#2a2a2a" stroke-width="1.15" fill="none"/><path d="M863.20 373.83 V353.00 M861.00 353.00 H865.40" stroke="#2a2a2a" stroke-width="1.15" fill="none"/><path d="M886.80 354.48 V333.35 M884.60 333.35 H889.00" stroke="#2a2a2a" stroke-width="1.15" fill="none"/><path d="M910.40 334.64 V314.61 M908.20 314.61 H912.60" stroke="#2a2a2a" stroke-width="1.15" fill="none"/><polyline points="674.40,340.10 698.00,333.35 721.60,347.54 745.20,383.10 768.80,396.15 792.40,405.08 816.00,400.86 839.60,398.13 863.20,385.58 886.80,396.15 910.40,341.34" fill="none" stroke="#00cc99" stroke-width="2.5" stroke-linejoin="miter" stroke-linecap="round"/><polyline points="674.40,340.10 698.00,342.58 721.60,348.83 745.20,366.88 768.80,384.10 792.40,384.10 816.00,375.81 839.60,397.64 863.20,373.83 886.80,354.48 910.40,334.64" fill="none" stroke="#3333cc" stroke-width="2.5" stroke-linejoin="miter" stroke-linecap="round"/></svg>

<svg width="960" height="640">
<defs>
<linearGradient id="lgRing" x1="0" y1="0" x2="0" y2="1">
<stop offset="0" stop-color="#a9dcf6"/><stop offset="0.38" stop-color="#d4ecfa"/><stop offset="0.52" stop-color="#ffffff"/><stop offset="0.8" stop-color="#ffffff"/><stop offset="0.9" stop-color="#efe6d0"/><stop offset="1" stop-color="#e0d2b0"/>
</linearGradient>
<linearGradient id="lgDome" x1="0" y1="0" x2="0" y2="1">
<stop offset="0" stop-color="#1f2d6e" stop-opacity="0.95"/><stop offset="0.55" stop-color="#2c3c80" stop-opacity="0.8"/><stop offset="1" stop-color="#8090c0" stop-opacity="0"/>
</linearGradient>
<pattern id="dots" width="2.6" height="2.6" patternUnits="userSpaceOnUse" patternTransform="rotate(28)">
<rect width="2.6" height="2.6" fill="none"/><circle cx="0.9" cy="0.9" r="0.75" fill="#fff" fill-opacity="0.75"/>
</pattern>
<filter id="b1"><feGaussianBlur stdDeviation="0.45"/></filter>
<filter id="grainW" x="0" y="0" width="100%" height="100%">
<feTurbulence type="fractalNoise" baseFrequency="0.6" numOctaves="2" seed="11" result="n"/>
<feColorMatrix in="n" type="matrix" values="0 0 0 0 1  0 0 0 0 1  0 0 0 0 1  0 2.6 0 0 -1.0" result="g"/>
<feComposite in="g" in2="SourceGraphic" operator="in"/>
</filter>
<clipPath id="cpL"><circle cx="71.5" cy="44" r="32.5"/></clipPath>
</defs>
<circle cx="71.5" cy="44" r="32.6" fill="url(#lgRing)" stroke="#9a9a9e" stroke-width="1.7" stroke-dasharray="2.2 0.9"/>
<g clip-path="url(#cpL)" filter="url(#b1)">
<path d="M43.5 47 A28 32 0 0 1 99.5 47 Z" fill="url(#lgDome)"/>
<path d="M43.5 47 A28 32 0 0 1 99.5 47 Z" fill="#fff" filter="url(#grainW)"/>
<path d="M50 47 V36 H54 V47 M58 47 V33 Q63 28 68 33 V47 M75 47 V33 Q80 28 85 33 V47 M89 47 V36 H93 V47" fill="#ffffff" fill-opacity="0.55"/>
<rect x="40" y="67" width="64" height="12" fill="#d9c79c" fill-opacity="0.4"/>
<path d="M68 77 V70 H71 V67.5 H74 V70 H78 V68.5 H84 V77 Z" fill="#fffdf2"/>
<path d="M70 77 V71.5 M73 77 V69 M76 77 V71.5 M80 77 V70 M82.5 77 V70" stroke="#c8b070" stroke-width="0.8"/>
</g>
<path d="M38.6 44.2 H41.6 V47.2 H101.4 V44.2 H104.4 V47.2 H109.4 V61 H104.4 V63 H101.2 V61 H41.8 V63 H38.6 V61 H32.8 V47.2 H38.6 Z" fill="#ffffff" stroke="#b4b4b8" stroke-width="0.9"/>
<text x="70.7" y="52.6" font-size="5.6" font-weight="bold" text-anchor="middle" textLength="71.5" lengthAdjust="spacingAndGlyphs" fill="#111" stroke="#111" stroke-width="0.3">THE COLLEGE OF PHYSICIANS</text>
<text x="70.9" y="58" font-size="5.6" font-weight="bold" text-anchor="middle" textLength="40.5" lengthAdjust="spacingAndGlyphs" fill="#111" stroke="#111" stroke-width="0.3">AND SURGEONS</text>
<path d="M35 53.6 H106.3 M51 59 H91" stroke="#333" stroke-width="0.5" stroke-opacity="0.6"/>
<text x="71.2" y="64.5" font-size="4.2" font-style="italic" text-anchor="middle" textLength="36" lengthAdjust="spacingAndGlyphs" fill="#c0553a">· Columbia University ·</text>
</svg>

<svg width="960" height="640">
<defs>
<radialGradient id="rgField" cx="0.36" cy="0.28" r="0.85">
<stop offset="0" stop-color="#f0f0f6"/><stop offset="0.5" stop-color="#c4c4ce"/><stop offset="1" stop-color="#84848f"/>
</radialGradient>
<linearGradient id="rgRing" x1="0.35" y1="0" x2="0.6" y2="1">
<stop offset="0" stop-color="#dcdce4"/><stop offset="0.13" stop-color="#a8a8b2"/><stop offset="0.3" stop-color="#6a6a74"/><stop offset="1" stop-color="#474750"/>
</linearGradient>
<filter id="b2" x="-30%" y="-30%" width="160%" height="160%"><feGaussianBlur stdDeviation="1.6"/></filter>
<filter id="b3" x="-30%" y="-30%" width="160%" height="160%"><feGaussianBlur stdDeviation="0.6"/></filter>
<filter id="grain" x="0" y="0" width="100%" height="100%">
<feTurbulence type="fractalNoise" baseFrequency="0.55" numOctaves="2" seed="7" result="n"/>
<feColorMatrix in="n" type="matrix" values="0 0 0 0 0.1  0 0 0 0 0.1  0 0 0 0 0.14  1.5 0 0 0 -0.58" result="g"/>
<feComposite in="g" in2="SourceGraphic" operator="in"/>
</filter>
<filter id="grainL" x="0" y="0" width="100%" height="100%">
<feTurbulence type="fractalNoise" baseFrequency="0.5" numOctaves="2" seed="3" result="n"/>
<feColorMatrix in="n" type="matrix" values="0 0 0 0 0.92  0 0 0 0 0.92  0 0 0 0 0.96  0 1.8 0 0 -0.75" result="g"/>
<feComposite in="g" in2="SourceGraphic" operator="in"/>
</filter>
<path id="ringPath" d="M862.5 68.4 A29 29 0 1 1 903.5 68.4"/>
<path id="ringPathB" d="M861.5 67.5 A30.5 30.5 0 0 0 904.5 67.5"/>
</defs>
<g transform="translate(884 48.5) scale(1.026) translate(-883 -47.9)">
<circle cx="886.6" cy="49.3" r="34.8" fill="#8496ee" filter="url(#b2)"/>
<circle cx="883" cy="47.9" r="35" fill="url(#rgRing)"/>
<circle cx="883" cy="47.9" r="34.4" fill="none" stroke="#9a9aa4" stroke-width="0.9" stroke-dasharray="40 180" stroke-dashoffset="-118"/>
<circle cx="883" cy="47.9" r="34.6" fill="none" stroke="#26262c" stroke-width="0.9"/>
<circle cx="883" cy="47.9" r="25.6" fill="url(#rgField)"/>
<circle cx="883" cy="47.9" r="25.6" fill="none" stroke="#c4c4cc" stroke-width="0.7"/>
<text font-size="6.6" font-weight="bold" fill="#f2f2f6" stroke="#1c1c22" stroke-width="0.45" paint-order="stroke" letter-spacing="0"><textPath href="#ringPath" startOffset="0">COLLEGII COLUMBIAE NOVI EBORACI</textPath></text>
<text font-size="6.4" font-weight="bold" fill="#f2f2f6" stroke="#1c1c22" stroke-width="0.45" paint-order="stroke" letter-spacing="0.3"><textPath href="#ringPathB" startOffset="14">1754</textPath></text>
<circle cx="883" cy="47.9" r="25.6" fill="#fff" filter="url(#grainL)"/>
<g filter="url(#b3)">
<path d="M858.5 52 Q870 47 883 50 Q896 53 907.5 47 L908 56 Q900 70 883 73 Q866 71 858 57 Z" fill="#5c5c68" fill-opacity="0.75"/>
<path d="M874 30 Q877 24 884 25 Q893 24 896 31 Q899 33 898 37 Q896 40 893 37 Q894 32 889 30 Q882 28 878 32 Q876 35 874 30 Z" fill="#e4e4ec" stroke="#2e2e36" stroke-width="1.2"/>
<path d="M884 32.5 Q888.5 32 889.5 37.5 Q893.5 41 894 48 Q897 56 894 62 Q893 66 888 67 L876 66 Q870 62 872.5 54 Q872 46 877 40 Q879 33 884 32.5 Z" fill="#1e1e26"/>
<path d="M880.5 40 Q884 37.5 886.5 41 Q886 45.5 883 45.5 Q880.5 44.5 880.5 40 Z" fill="#9c9ca8"/>
<path d="M877 50 L882 47 L884 54 L880 58 Z M887 49 L891 52 L889 58 Z" fill="#5a5a66"/>
<path d="M866.5 57 Q868.5 53 870.5 57 L871.5 66.5 L866.5 66.5 Z M895.5 55 Q898 51.5 899.5 56 L900 65 L895 66 Z M884 66 Q888 63.5 890.5 68 L888 72.5 L883.5 71.5 Z" fill="#e8e8ee"/>
</g>
<circle cx="883" cy="47.9" r="35" fill="#000" filter="url(#grain)"/>
</g>
</svg>
</body></html>
